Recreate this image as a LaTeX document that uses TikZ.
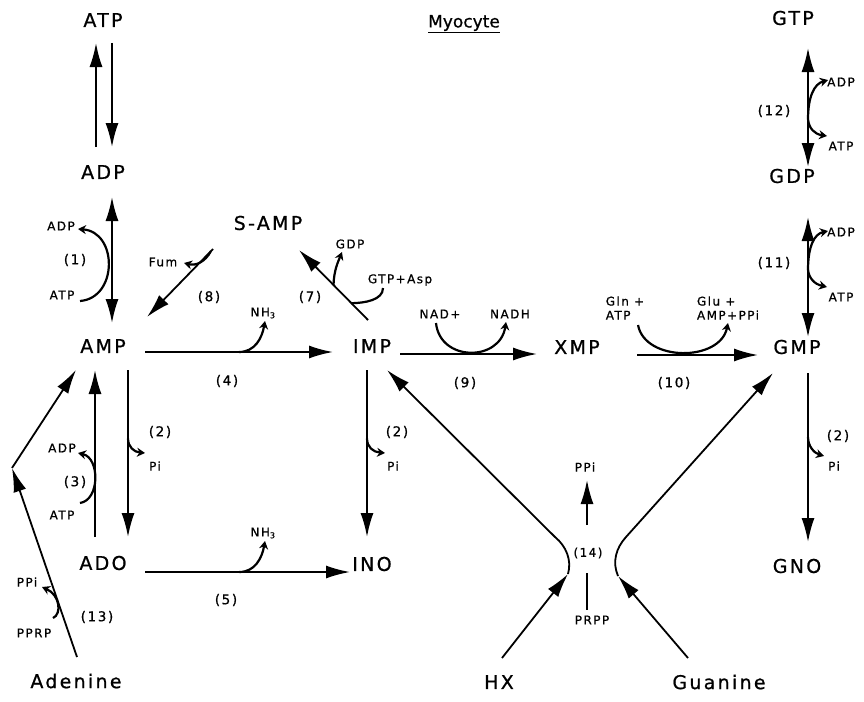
\documentclass[tikz,border=0pt]{standalone}
\usepackage{fontspec}
\setmainfont{DejaVu Sans}[LetterSpace=12, FakeBold=0.8]
\newfontfamily\titlefont{DejaVu Sans}[FakeBold=0.8]
\usetikzlibrary{arrows.meta}
\newcommand{\metsize}{\fontsize{19}{21}\selectfont}
\newcommand{\labsize}{\fontsize{12}{14}\selectfont}
\newcommand{\numsize}{\fontsize{13.5}{15}\selectfont}

\begin{document}
\begin{tikzpicture}[x=1pt, y=-1pt,
    met/.style={font=\metsize, inner sep=0pt},
    lab/.style={font=\labsize, inner sep=0pt},
    num/.style={font=\numsize, inner sep=0pt},
    main/.style={line width=1.8pt, >={Latex[length=24pt,width=13pt]}},
    side/.style={line width=2.2pt, -{Stealth[length=8pt,width=9pt]}},
    sub/.style={line width=2.2pt}]
    \useasboundingbox (0,0) rectangle (864,701);
    % Title
    \node[font=\titlefont\fontsize{17}{19}\selectfont, inner sep=0pt] (title) at (464,24) {\underline{Myocyte}};
    % Metabolites
    \node[met] (ATP) at (103,20) {ATP};
    \node[met] (ADP) at (103,172) {ADP};
    \node[met] (AMP) at (103,346) {AMP};
    \node[met] (SAMP) at (268,223) {S-AMP};
    \node[met] (IMP) at (372,346) {IMP};
    \node[met] (XMP) at (577,347) {XMP};
    \node[met] (GMP) at (797,347) {GMP};
    \node[met] (GTP) at (793,18) {GTP};
    \node[met] (GDP) at (792,176) {GDP};
    \node[met] (ADO) at (103,563) {ADO};
    \node[met] (INO) at (372,564) {INO};
    \node[met] (GNO) at (797,566) {GNO};
    \node[met] (Adenine) at (76,681) {Adenine};
    \node[met] (HX) at (499,682) {HX};
    \node[met] (Guanine) at (719,682) {Guanine};
    % Cofactors
    \node[lab] (ADP1) at (61,226) {ADP};
    \node[lab] (ATP1) at (62,295) {ATP};
    \node[lab] (ADP3) at (62,448) {ADP};
    \node[lab] (ATP3) at (62,515) {ATP};
    \node[lab] (Fum) at (163,262) {Fum};
    \node[lab] (NH4) at (263,313) {NH\textsubscript{3}};
    \node[lab] (NH5) at (263,533) {NH\textsubscript{3}};
    \node[lab] (GDP7) at (350,244) {GDP};
    \node[lab] (GTPAsp) at (400,280) {GTP+Asp};
    \node[lab] (NAD) at (440,314) {NAD+};
    \node[lab] (NADH) at (510,314) {NADH};
    \node[lab, align=left] (GlnATP) at (625,308) {Gln +\\ATP};
    \node[lab, align=left] (GluAMP) at (728,308) {Glu +\\AMP+PPi};
    \node[lab] (ADP12) at (841,82) {ADP};
    \node[lab] (ATP12) at (841,146) {ATP};
    \node[lab] (ADP11) at (841,232) {ADP};
    \node[lab] (ATP11) at (841,297) {ATP};
    \node[lab] (Pia) at (155,466) {Pi};
    \node[lab] (Pib) at (393,466) {Pi};
    \node[lab] (Pic) at (834,466) {Pi};
    \node[lab] (PPi13) at (27,582) {PPi};
    \node[lab] (PPRP) at (34,633) {PPRP};
    \node[lab] (PPi14) at (585,467) {PPi};
    \node[lab] (PRPP) at (592,620) {PRPP};
    % Reaction numbers
    \node[num] (r1) at (75,260) {(1)};
    \node[num] (r3) at (75,482) {(3)};
    \node[num] (r8) at (209,297) {(8)};
    \node[num] (r7) at (310,297) {(7)};
    \node[num] (r4) at (227,381) {(4)};
    \node[num] (r9) at (465,383) {(9)};
    \node[num] (r10) at (674,383) {(10)};
    \node[num] (r12) at (774,111) {(12)};
    \node[num] (r11) at (774,263) {(11)};
    \node[num] (r5) at (226,600) {(5)};
    \node[num] (r13) at (97,617) {(13)};
    \node[lab] (r14) at (588,553) {(14)};
    \node[num] (r2a) at (160,432) {(2)};
    \node[num] (r2b) at (397,432) {(2)};
    \node[num] (r2c) at (838,436) {(2)};
    % Main reactions
    \draw[main,->] ([shift={(-7,-25)}]ADP.center) -- ([shift={(-7,23)}]ATP.center);
    \draw[main,->] ([shift={(9,23)}]ATP.center) -- ([shift={(9,-25)}]ADP.center);
    \draw[main,<->] ([shift={(9,25)}]ADP.center) -- ([shift={(9,-23)}]AMP.center);
    \draw[main,->] ([shift={(-55,26)}]SAMP.center) -- coordinate[pos=0.03] (c8) ([shift={(44,-29)}]AMP.center);
    \draw[main,->] ([shift={(-4,-26)}]IMP.center) -- coordinate[pos=0.24] (c7a) coordinate[pos=0.5] (c7b) ([shift={(31,27)}]SAMP.center);
    \draw[main,->] ([shift={(42,6)}]AMP.center) -- coordinate[pos=0.5] (c4) ([shift={(-39,6)}]IMP.center);
    \draw[main,->] ([shift={(28,8)}]IMP.center) -- ([shift={(-40,7)}]XMP.center);
    \draw[main,->] ([shift={(60,8)}]XMP.center) -- ([shift={(-39,8)}]GMP.center);
    \draw[main,<->] ([shift={(15,30)}]GTP.center) -- coordinate[pos=0.6] (c12) ([shift={(16,-9)}]GDP.center);
    \draw[main,<->] ([shift={(16,41)}]GDP.center) -- coordinate[pos=0.44] (c11) ([shift={(11,-10)}]GMP.center);
    \draw[main,->] ([shift={(11,26)}]GMP.center) -- coordinate[pos=0.38] (c2c) ([shift={(11,-24)}]GNO.center);
    \draw[main,->] ([shift={(-8,-26)}]ADO.center) -- ([shift={(-8,24)}]AMP.center);
    \draw[main,->] ([shift={(25,24)}]AMP.center) -- coordinate[pos=0.41] (c2a) ([shift={(25,-26)}]ADO.center);
    \draw[main,->] ([shift={(42,9)}]ADO.center) -- coordinate[pos=0.46] (c5) ([shift={(-22,8)}]INO.center);
    \draw[main,->] ([shift={(-5,24)}]IMP.center) -- coordinate[pos=0.41] (c2b) ([shift={(-5,-27)}]INO.center);
    % Salvage
    \coordinate (kink) at (12,468);
    \coordinate (hxb) at (568,574);
    \coordinate (gub) at (618,576);
    \draw[main,->] ([shift={(1,-24)}]Adenine.center) -- (kink);
    \draw[main,->] (kink) -- ([shift={(-27,24)}]AMP.center);
    \draw[main,->] ([shift={(3,-24)}]HX.center) -- (hxb);
    \draw[main,->] (hxb) .. controls (572,560) and (566,546) .. (555,537) -- ([shift={(15,24)}]IMP.center);
    \draw[main,->] ([shift={(-31,-24)}]Guanine.center) -- (gub);
    \draw[main,->] (gub) .. controls (612,562) and (616,548) .. (626,537) -- ([shift={(-24,26)}]GMP.center);
    \draw[main,->] ([shift={(-1,-28)}]r14.center) -- ([shift={(2,13)}]PPi14.center);
    \draw[line width=1.8pt] ([shift={(-1,20)}]r14.center) -- ([shift={(-5,-10)}]PRPP.center);
    % Side reactions
    \draw[side] ([shift={(18,6)}]ATP1.center) .. controls (118,298) and (118,232) .. ([shift={(17,3)}]ADP1.center);
    \draw[side] ([shift={(18,-12)}]ATP3.center) .. controls (100,500) and (100,458) .. ([shift={(16,5)}]ADP3.center);
    \draw[side] (c8) .. controls (205,262) and (196,266) .. ([shift={(21,1)}]Fum.center);
    \draw[side] (c4) .. controls (255,352) and (262,338) .. ([shift={(2,8)}]NH4.center);
    \draw[side] (c5) .. controls (255,572) and (262,558) .. ([shift={(2,8)}]NH5.center);
    \draw[side] (c7b) .. controls (334,270) and (338,262) .. ([shift={(-8,8)}]GDP7.center);
    \draw[sub] ([shift={(-17,8)}]GTPAsp.center) .. controls (383,300) and (365,303) .. (c7a);
    \draw[side] ([shift={(-4,9)}]NAD.center) .. controls (440,362) and (500,362) .. ([shift={(-4,8)}]NADH.center);
    \draw[side] ([shift={(13,17)}]GlnATP.center) .. controls (645,362) and (720,362) .. ([shift={(0,15)}]GluAMP.center);
    \draw[side] (c12) .. controls (808,97) and (814,84) .. ([shift={(-13,-2)}]ADP12.center);
    \draw[side] (c12) .. controls (809,128) and (814,134) .. ([shift={(-14,-10)}]ATP12.center);
    \draw[side] (c11) .. controls (808,247) and (814,234) .. ([shift={(-13,-1)}]ADP11.center);
    \draw[side] (c11) .. controls (809,278) and (814,284) .. ([shift={(-14,-10)}]ATP11.center);
    \draw[side] (c2a) .. controls (128,447) and (134,452) .. ([shift={(-10,-13)}]Pia.center);
    \draw[side] (c2b) .. controls (367,447) and (373,452) .. ([shift={(-8,-13)}]Pib.center);
    \draw[side] (c2c) .. controls (808,446) and (814,453) .. ([shift={(-10,-10)}]Pic.center);
    \draw[side] ([shift={(19,-15)}]PPRP.center) .. controls (62,614) and (60,595) .. ([shift={(15,5)}]PPi13.center);
\end{tikzpicture}
\end{document}
